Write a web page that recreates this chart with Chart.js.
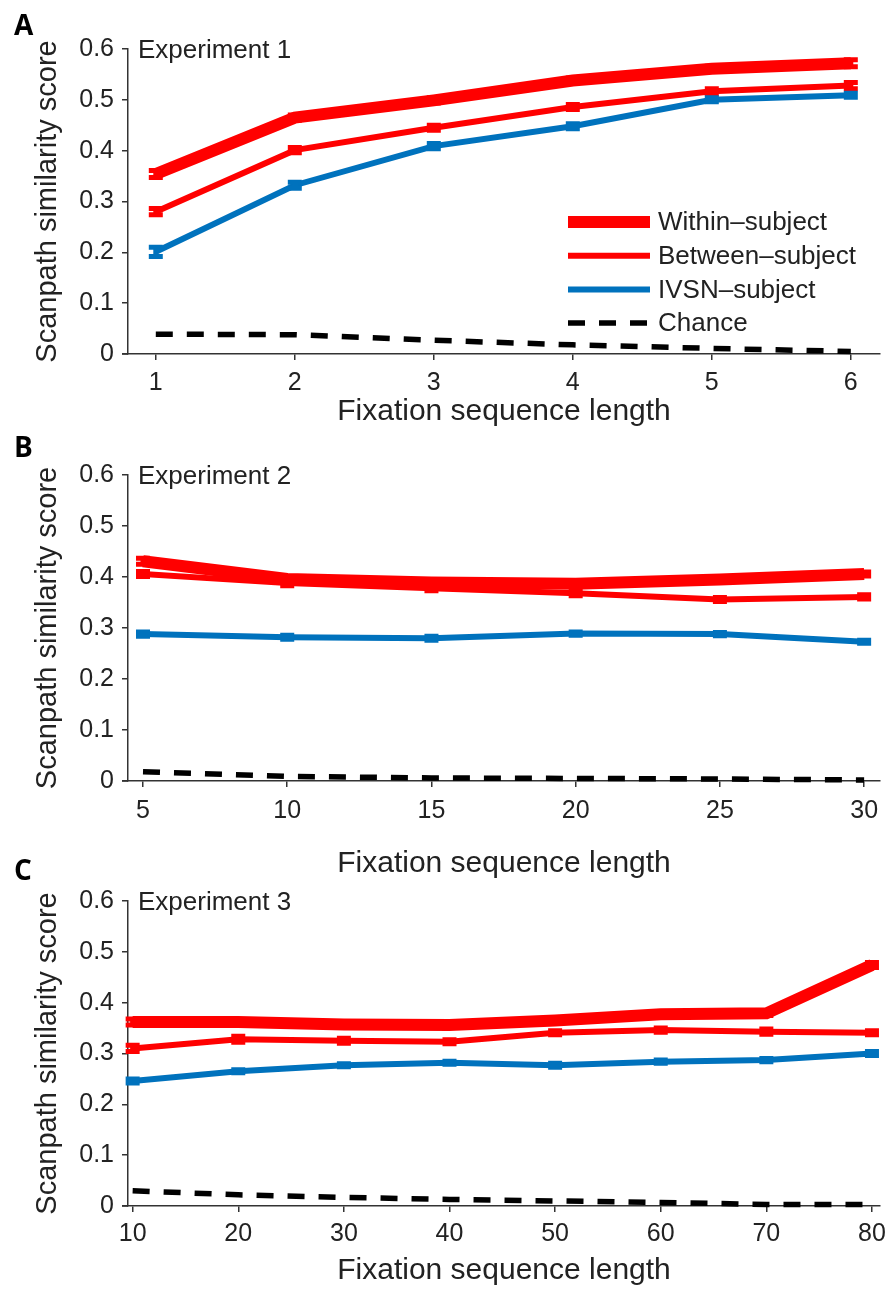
<!DOCTYPE html>
<html>
<head>
<meta charset="utf-8">
<script src="https://cdn.jsdelivr.net/npm/chart.js@4.4.1/dist/chart.umd.min.js"></script>
<style>
  html, body { margin: 0; padding: 0; background: #fff; }
  #figura { position: relative; width: 890px; height: 1289px; overflow: hidden; }
  .painel { position: absolute; left: 0; }
</style>
</head>
<body>
<div id="figura">
  <canvas id="painel_a" class="painel" width="890" height="435" style="top:0px"></canvas>
  <canvas id="painel_b" class="painel" width="890" height="470" style="top:420px"></canvas>
  <canvas id="painel_c" class="painel" width="890" height="449" style="top:840px"></canvas>
</div>
<script>
// --- Dados (pontuação média de similaridade por comprimento da sequência) ---
const legendas = ['Within–subject', 'Between–subject', 'IVSN–subject', 'Chance'];
const yTicks = [0, 0.1, 0.2, 0.3, 0.4, 0.5, 0.6];

// Experiment 1
const xA = [1, 2, 3, 4, 5, 6];
const withinA = [0.354, 0.465, 0.499, 0.538, 0.561, 0.572];
const betweenA = [0.280, 0.401, 0.445, 0.486, 0.517, 0.528];
const ivsnA = [0.201, 0.332, 0.409, 0.448, 0.500, 0.509];
const chanceA = [0.039, 0.038, 0.027, 0.018, 0.011, 0.005];
const withinErrA = [0.007, 0.005, 0.005, 0.005, 0.005, 0.007];
const betweenErrA = [0.006, 0.005, 0.005, 0.005, 0.005, 0.006];
const ivsnErrA = [0.009, 0.006, 0.005, 0.005, 0.004, 0.004];

// Experiment 2
const xB = [5, 10, 15, 20, 25, 30];
const withinB = [0.431, 0.396, 0.389, 0.387, 0.395, 0.406];
const betweenB = [0.406, 0.388, 0.378, 0.368, 0.356, 0.361];
const ivsnB = [0.288, 0.282, 0.280, 0.289, 0.288, 0.273];
const chanceB = [0.018, 0.009, 0.006, 0.005, 0.004, 0.002];
const withinErrB = [0.006, 0.005, 0.004, 0.004, 0.004, 0.004];
const betweenErrB = [0.005, 0.005, 0.005, 0.005, 0.004, 0.004];
const ivsnErrB = [0.004, 0.004, 0.004, 0.003, 0.003, 0.003];

// Experiment 3
const xC = [10, 20, 30, 40, 50, 60, 70, 80];
const withinC = [0.362, 0.362, 0.357, 0.356, 0.365, 0.377, 0.379, 0.474];
const betweenC = [0.310, 0.328, 0.325, 0.323, 0.341, 0.346, 0.343, 0.341];
const ivsnC = [0.246, 0.265, 0.277, 0.282, 0.277, 0.284, 0.287, 0.300];
const chanceC = [0.030, 0.022, 0.017, 0.013, 0.010, 0.007, 0.003, 0.003];
const withinErrC = [0.006, 0.005, 0.005, 0.004, 0.004, 0.004, 0.004, 0.005];
const betweenErrC = [0.006, 0.006, 0.005, 0.004, 0.004, 0.004, 0.005, 0.004];
const ivsnErrC = [0.004, 0.003, 0.003, 0.003, 0.004, 0.003, 0.003, 0.004];

// --- Estilos ---
const VERMELHO = '#ff0000';
const AZUL = '#0072bd';
const PRETO = '#000000';
const EIXO = '#333333';
const TEXTO = '#222222';
const FONTE = "'Liberation Sans', Arial, Helvetica, sans-serif";

// Barras de erro, rótulos do painel e legenda
const pluginPainel = {
  id: 'painel',
  afterDatasetsDraw(chart) {
    const { ctx, scales: { x, y } } = chart;
    chart.data.datasets.forEach(ds => {
      if (!ds.erro) return;
      ctx.save();
      ctx.strokeStyle = ds.borderColor;
      ctx.lineWidth = 5;
      ds.data.forEach((p, j) => {
        const px = x.getPixelForValue(p.x);
        const y1 = y.getPixelForValue(p.y - ds.erro[j]);
        const y2 = y.getPixelForValue(p.y + ds.erro[j]);
        ctx.beginPath();
        ctx.moveTo(px, y1); ctx.lineTo(px, y2);
        ctx.moveTo(px - 7, y1); ctx.lineTo(px + 7, y1);
        ctx.moveTo(px - 7, y2); ctx.lineTo(px + 7, y2);
        ctx.stroke();
      });
      ctx.restore();
    });
  },
  afterDraw(chart) {
    const { ctx, chartArea } = chart;
    const opts = chart.options.plugins.painel;
    ctx.save();

    // eixo x prolongado um pouco para a esquerda do eixo y
    ctx.strokeStyle = EIXO;
    ctx.lineWidth = 1.5;
    ctx.beginPath();
    ctx.moveTo(chartArea.left - 6, chartArea.bottom);
    ctx.lineTo(chartArea.left, chartArea.bottom);
    ctx.stroke();

    // letra do painel
    ctx.fillStyle = '#000';
    ctx.font = "bold 28px 'Open Sans', " + FONTE;
    ctx.textBaseline = 'alphabetic';
    ctx.textAlign = 'left';
    ctx.fillText(opts.letra, 14, opts.letraY);

    // nome do experimento
    ctx.fillStyle = TEXTO;
    ctx.font = '26px ' + FONTE;
    ctx.textBaseline = 'middle';
    ctx.fillText(opts.titulo, chartArea.left + 10, chartArea.top + 2);

    // legenda (apenas no primeiro painel)
    if (opts.legenda) {
      const { x0, x1, y0, passo } = opts.legenda;
      ctx.font = '26px ' + FONTE;
      chart.data.datasets.forEach((ds, i) => {
        const ly = y0 + i * passo;
        ctx.strokeStyle = ds.borderColor;
        ctx.lineWidth = ds.borderWidth;
        ctx.setLineDash(ds.borderDash || []);
        ctx.beginPath();
        ctx.moveTo(x0, ly);
        ctx.lineTo(x1, ly);
        ctx.stroke();
        ctx.setLineDash([]);
        ctx.fillStyle = TEXTO;
        ctx.fillText(ds.label, x1 + 8, ly + 1);
      });
    }
    ctx.restore();
  }
};

function serie(xs, ys) {
  return xs.map((v, i) => ({ x: v, y: ys[i] }));
}

function criarPainel(cfg) {
  const datasets = [
    { label: legendas[0], data: serie(cfg.xs, cfg.within), borderColor: VERMELHO, borderWidth: 12, erro: cfg.withinErr },
    { label: legendas[1], data: serie(cfg.xs, cfg.between), borderColor: VERMELHO, borderWidth: 6, erro: cfg.betweenErr },
    { label: legendas[2], data: serie(cfg.xs, cfg.ivsn), borderColor: AZUL, borderWidth: 6, erro: cfg.ivsnErr },
    { label: legendas[3], data: serie(cfg.xs, cfg.chance), borderColor: PRETO, borderWidth: 5.5, borderDash: [17, 14] }
  ].map(ds => Object.assign(ds, { pointRadius: 0, tension: 0, clip: false, fill: false }));

  return new Chart(document.getElementById(cfg.id), {
    type: 'line',
    data: { datasets },
    plugins: [pluginPainel],
    options: {
      responsive: false,
      animation: false,
      layout: { padding: { top: cfg.topo, right: 10, left: 0, bottom: 0 } },
      plugins: {
        legend: { display: false },
        tooltip: { enabled: false },
        painel: { letra: cfg.letra, letraY: cfg.letraY, titulo: cfg.titulo, legenda: cfg.legenda }
      },
      scales: {
        x: {
          type: 'linear',
          min: cfg.xMin,
          max: cfg.xMax,
          afterBuildTicks: s => { s.ticks = cfg.xs.map(v => ({ value: v })); },
          afterFit: s => { s.height = cfg.altura - cfg.base; s.paddingLeft = 0; s.paddingRight = 0; },
          grid: { drawOnChartArea: false, drawTicks: true, tickLength: 6, color: EIXO, lineWidth: 1.5 },
          border: { display: true, color: EIXO, width: 1.5 },
          ticks: { color: TEXTO, font: { family: FONTE, size: 25 }, padding: cfg.padTick, maxRotation: 0, autoSkip: false },
          title: {
            display: true,
            text: 'Fixation sequence length',
            color: TEXTO,
            font: { family: FONTE, size: 30 },
            padding: { top: 0, bottom: cfg.padTitulo }
          }
        },
        y: {
          type: 'linear',
          min: 0,
          max: 0.6,
          afterBuildTicks: s => { s.ticks = yTicks.map(v => ({ value: v })); },
          afterFit: s => { s.width = 128; },
          grid: { drawOnChartArea: false, drawTicks: true, tickLength: 6, color: EIXO, lineWidth: 1.5 },
          border: { display: true, color: EIXO, width: 1.5 },
          ticks: {
            color: TEXTO,
            font: { family: FONTE, size: 25 },
            padding: 8,
            callback: v => (v === 0 ? '0' : v.toFixed(1))
          },
          title: {
            display: true,
            text: 'Scanpath similarity score',
            color: TEXTO,
            font: { family: FONTE, size: 29 },
            padding: { top: 31, bottom: 0 }
          }
        }
      }
    }
  });
}

criarPainel({
  id: 'painel_a', letra: 'A', letraY: 35, titulo: 'Experiment 1',
  xs: xA, within: withinA, between: betweenA, ivsn: ivsnA, chance: chanceA,
  withinErr: withinErrA, betweenErr: betweenErrA, ivsnErr: ivsnErrA,
  xMin: 0.8, xMax: 6.21, altura: 435, topo: 49, base: 354, padTick: 8, padTitulo: 5,
  legenda: { x0: 568, x1: 650, y0: 222, passo: 33.7 }
});

criarPainel({
  id: 'painel_b', letra: 'B', letraY: 37, titulo: 'Experiment 2',
  xs: xB, within: withinB, between: betweenB, ivsn: ivsnB, chance: chanceB,
  withinErr: withinErrB, betweenErr: betweenErrB, ivsnErr: ivsnErrB,
  xMin: 4.48, xMax: 30.55, altura: 470, topo: 55, base: 361, padTick: 9, padTitulo: 8
});

criarPainel({
  id: 'painel_c', letra: 'C', letraY: 40, titulo: 'Experiment 3',
  xs: xC, within: withinC, between: betweenC, ivsn: ivsnC, chance: chanceC,
  withinErr: withinErrC, betweenErr: betweenErrC, ivsnErr: ivsnErrC,
  xMin: 9.56, xMax: 80.76, altura: 449, topo: 61, base: 366, padTick: 7, padTitulo: 0
});
</script>
</body>
</html>
